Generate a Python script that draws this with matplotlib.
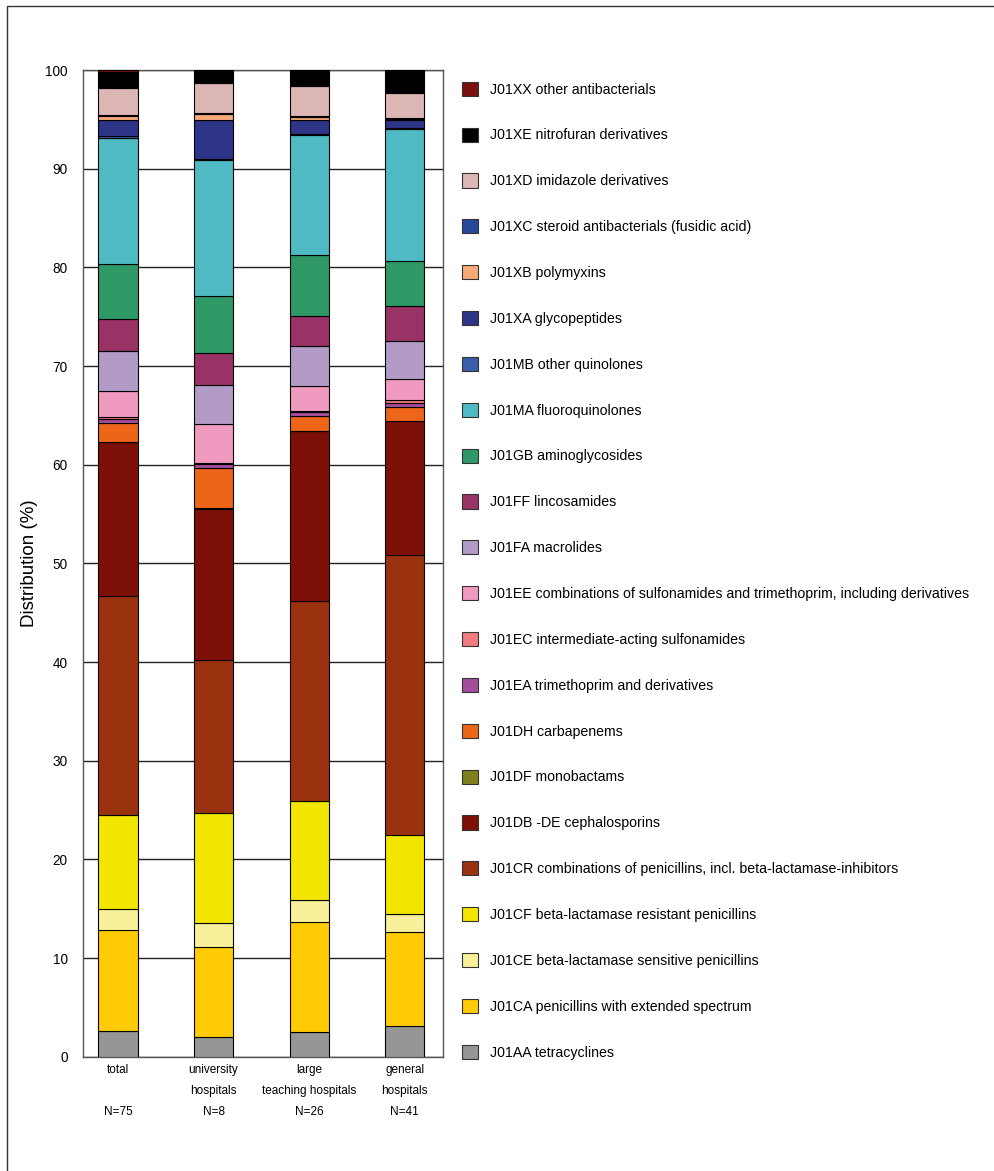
import matplotlib
matplotlib.use('Agg')
import matplotlib.pyplot as plt
import matplotlib.patches as patches
from matplotlib import font_manager
import numpy as np

# Font: narrow sans if available
names = {f.name for f in font_manager.fontManager.ttflist}
if 'Liberation Sans Narrow' in names:
    plt.rcParams['font.family'] = ['Liberation Sans Narrow', 'DejaVu Sans']
    fs_scale = 1.15
else:
    plt.rcParams['font.family'] = ['Liberation Sans', 'DejaVu Sans']
    fs_scale = 1.0

# Categories (x axis)
groups = ['total\n', 'university\nhospitals', 'large\nteaching hospitals', 'general\nhospitals']
group_n = ['N=75', 'N=8', 'N=26', 'N=41']

# ATC classes, stacked bottom to top
classes = [
    'J01AA tetracyclines',
    'J01CA penicillins with extended spectrum',
    'J01CE beta-lactamase sensitive penicillins',
    'J01CF beta-lactamase resistant penicillins',
    'J01CR combinations of penicillins, incl. beta-lactamase-inhibitors',
    'J01DB -DE cephalosporins',
    'J01DF monobactams',
    'J01DH carbapenems',
    'J01EA trimethoprim and derivatives',
    'J01EC intermediate-acting sulfonamides',
    'J01EE combinations of sulfonamides and trimethoprim, including derivatives',
    'J01FA macrolides',
    'J01FF lincosamides',
    'J01GB aminoglycosides',
    'J01MA fluoroquinolones',
    'J01MB other quinolones',
    'J01XA glycopeptides',
    'J01XB polymyxins',
    'J01XC steroid antibacterials (fusidic acid)',
    'J01XD imidazole derivatives',
    'J01XE nitrofuran derivatives',
    'J01XX other antibacterials',
]

colors = [
    '#969696', '#FFCB05', '#F8F09A', '#F2E500', '#9A3210', '#7D1006',
    '#7F7F1E', '#EC6519', '#A34D9B', '#F07B80', '#F19AC0', '#B39BC8',
    '#993366', '#2E9966', '#4FBAC4', '#3A5DAA', '#2E3487', '#F7AA78',
    '#27489A', '#DDB6B6', '#000000', '#7B1010',
]

# Distribution (%) per class, one value per group (total, university, large teaching, general)
J01AA = [2.6, 2.0, 2.5, 3.1]
J01CA = [10.2, 9.1, 11.2, 9.5]
J01CE = [2.2, 2.5, 2.2, 1.9]
J01CF = [9.5, 11.1, 10.0, 8.0]
J01CR = [22.2, 15.5, 20.3, 28.3]
J01DB = [15.6, 15.3, 17.2, 13.6]
J01DF = [0.05, 0.1, 0.02, 0.05]
J01DH = [1.85, 4.1, 1.5, 1.35]
J01EA = [0.4, 0.4, 0.4, 0.5]
J01EC = [0.2, 0.1, 0.1, 0.3]
J01EE = [2.7, 3.9, 2.6, 2.1]
J01FA = [4.0, 4.0, 4.0, 3.8]
J01FF = [3.3, 3.2, 3.0, 3.6]
J01GB = [5.5, 5.8, 6.2, 4.5]
J01MA = [12.8, 13.8, 12.2, 13.4]
J01MB = [0.2, 0.1, 0.1, 0.1]
J01XA = [1.6, 3.9, 1.4, 0.8]
J01XB = [0.4, 0.6, 0.3, 0.1]
J01XC = [0.1, 0.1, 0.1, 0.1]
J01XD = [2.8, 3.1, 3.1, 2.6]
J01XE = [1.6, 1.2, 1.5, 2.2]
J01XX = [0.2, 0.1, 0.1, 0.1]

series = [J01AA, J01CA, J01CE, J01CF, J01CR, J01DB, J01DF, J01DH, J01EA, J01EC,
          J01EE, J01FA, J01FF, J01GB, J01MA, J01MB, J01XA, J01XB, J01XC, J01XD,
          J01XE, J01XX]

fig = plt.figure(figsize=(9.94, 11.71), dpi=100)
ax = fig.add_axes([0.0835, 0.0976, 0.3622, 0.8426])

x = np.arange(len(groups))
bottom = np.zeros(len(groups))
handles = []
for name, vals, col in zip(classes, series, colors):
    vals = np.array(vals)
    ax.bar(x, vals, width=0.41, bottom=bottom, color=col,
           edgecolor='black', linewidth=0.8, zorder=3)
    bottom += vals
    handles.append(patches.Patch(facecolor=col, edgecolor='#333333',
                                 linewidth=0.8, label=name))

ax.set_xlim(-0.366, 3.40)
ax.set_ylim(0, 100)
ax.set_yticks(range(0, 101, 10))
ax.tick_params(axis='y', length=0, pad=11, labelsize=9.8 * fs_scale)
ax.tick_params(axis='x', length=0, pad=5)
ax.set_xticks(x)
ax.set_xticklabels([f'{g}\n{n}' for g, n in zip(groups, group_n)],
                   fontsize=8.5 * fs_scale, linespacing=2.0)
ax.set_ylabel('Distribution (%)', fontsize=13.5 * fs_scale, labelpad=5)

ax.yaxis.grid(True, color='#222222', linewidth=1.0, zorder=0)
for s in ax.spines.values():
    s.set_color('#555555')
    s.set_linewidth(1.0)

fig.legend(handles=handles[::-1], loc='upper left',
           bbox_to_anchor=(0.459, 0.935), frameon=False,
           fontsize=10.2 * fs_scale, handlelength=1.15, handleheight=1.15,
           handletextpad=0.85, labelspacing=2.19, borderaxespad=0)

# outer frame (left and top edges only visible)
frame = patches.Rectangle((7 / 994, -0.05), 1.1, 1 - 6 / 1171 + 0.05,
                          transform=fig.transFigure, fill=False,
                          edgecolor='#333333', linewidth=1.0, clip_on=False)
fig.add_artist(frame)

fig.savefig('out.png', dpi=100)
